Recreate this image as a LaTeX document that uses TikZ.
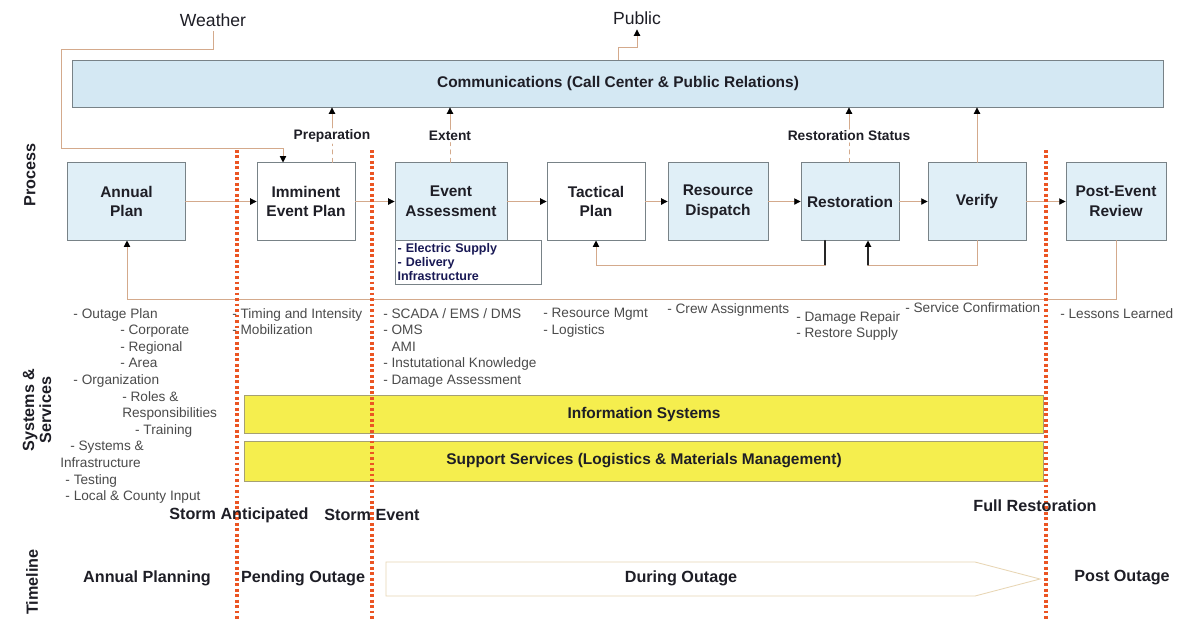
\documentclass[tikz,border=0pt]{standalone}
\usepackage{fontspec}
\setmainfont{Liberation Sans}
\usetikzlibrary{arrows.meta}
\definecolor{boxline}{RGB}{120, 130, 135}
\definecolor{boxfill}{RGB}{224, 239, 247}
\definecolor{commfill}{RGB}{212, 232, 243}
\definecolor{barfill}{RGB}{245, 238, 78}
\definecolor{barline}{RGB}{165, 160, 115}
\definecolor{linktan}{RGB}{212, 170, 140}
\definecolor{markred}{RGB}{235, 85, 35}
\definecolor{navy}{RGB}{25, 25, 85}
\definecolor{listgray}{RGB}{75, 75, 75}
\definecolor{labeldark}{RGB}{30, 30, 38}
\definecolor{chevron}{RGB}{232, 214, 180}
\def\procfont{\fontsize{11}{14}\selectfont\bfseries}
\def\listfont{\fontsize{9.7}{11.8}\selectfont}
\def\tagfont{\fontsize{9.8}{12}\selectfont\bfseries}
\def\subfont{\fontsize{8.9}{10}\selectfont\bfseries}
\def\rowfont{\fontsize{11.5}{12}\selectfont\bfseries}
\def\wxfont{\fontsize{12.5}{14}\selectfont}
\begin{document}
\begin{tikzpicture}[x=0.025cm, y=-0.025cm, line cap=round,
    >={Triangle[length=4.5pt, width=4.5pt, color=black]},
    procbox/.style={draw=boxline, line width=0.6pt, align=center, minimum height=1.93cm, font=\procfont, text=labeldark},
    bar/.style={draw=barline, fill=barfill, line width=0.6pt, minimum width=19.95cm, font=\procfont, text=labeldark},
    tag/.style={fill=white, inner sep=1pt, font=\tagfont, text=labeldark},
    items/.style={anchor=north west, inner sep=0pt, align=left, font=\listfont, text=listgray},
    link/.style={draw=linktan, line width=0.6pt},
    dark/.style={draw=black!85, line width=0.8pt},
    marker/.style={draw=markred, line width=2.2pt, line cap=butt, dash pattern=on 2pt off 1.9pt},
    stage/.style={font=\rowfont, text=labeldark},
    row/.style={rotate=90, font=\rowfont, text=labeldark, align=center}]

    \useasboundingbox[fill=white] (0,0) rectangle (1182,621);

    \node[row] (procrow) at (30,175) {Process};
    \node[row] (sysrow) at (37,410) {Systems \&\\Services};
    \node[row] (timerow) at (32,582) {Timeline};

    \node[draw=boxline, fill=commfill, line width=0.6pt, minimum width=27.25cm, minimum height=1.175cm,
        font=\procfont, text=labeldark] (comm) at (618,83.5) {Communications (Call Center \& Public Relations)};

    \node[font=\wxfont, text=labeldark] (weather) at (213,20) {Weather};
    \node[font=\wxfont, text=labeldark] (public) at (637,18) {Public};

    \node[procbox, fill=boxfill, minimum width=2.93cm] (annual) at (126.5,201.5) {Annual\\Plan};
    \node[procbox, fill=white, minimum width=2.45cm] (imminent) at (306,201.5) {Imminent\\Event Plan};
    \node[procbox, fill=boxfill, minimum width=2.8cm] (assess) at (451,201.5) {Event\\Assessment};
    \node[procbox, fill=white, minimum width=2.45cm] (tactical) at (596,201.5) {Tactical\\Plan};
    \node[procbox, fill=boxfill, minimum width=2.5cm] (dispatch) at (718,201.5) {Resource\\Dispatch};
    \node[procbox, fill=boxfill, minimum width=2.45cm] (restore) at (850,201.5) {Restoration};
    \node[procbox, fill=boxfill, minimum width=2.45cm] (verify) at (977,201.5) {Verify};
    \node[procbox, fill=boxfill, minimum width=2.5cm] (review) at (1116,201.5) {Post-Event\\Review};

    \node[draw=boxline, fill=white, line width=0.6pt, anchor=north west, inner sep=1.5pt, text width=3.54cm,
        minimum height=1.1cm, align=left, font=\subfont, text=navy] (assesssub) at (395,240)
        {- Electric Supply\\- Delivery\\Infrastructure};

    \node[tag] (prep) at (332,136) {Preparation};
    \node[tag] (extent) at (450,136) {Extent};
    \node[tag] (status) at (849,136) {Restoration Status};

    \draw[link, dashed] (imminent.north -| prep) -- (prep);
    \draw[link, ->] (prep) -- (comm.south -| prep);
    \draw[link, dashed] (assess.north -| extent) -- (extent);
    \draw[link, ->] (extent) -- (comm.south -| extent);
    \draw[link, dashed] (restore.north -| status) -- (status);
    \draw[link, ->] (status) -- (comm.south -| status);
    \draw[link, ->] (verify.north) -- (comm.south -| verify.north);

    \coordinate (wx1) at (61,49);
    \coordinate (wx2) at (283,148);
    \draw[link, ->] (weather.south) -- (weather.south |- wx1) -- (wx1) -- (wx1 |- wx2) -- (wx2) -- (imminent.north -| wx2);

    \coordinate (pub1) at (618,47);
    \draw[link, ->] (comm.north -| pub1) -- (pub1) -- (pub1 -| public.south) -- (public.south);

    \draw[link, ->] (annual.east) -- (imminent.west);
    \draw[link, ->] (imminent.east) -- (assess.west);
    \draw[link, ->] (assess.east) -- (tactical.west);
    \draw[link, ->] (tactical.east) -- (dispatch.west);
    \draw[link, ->] (dispatch.east) -- (restore.west);
    \draw[link, ->] (restore.east) -- (verify.west);
    \draw[link, ->] (verify.east) -- (review.west);

    \coordinate (back1) at (825,265);
    \draw[dark] (restore.south -| back1) -- (back1);
    \draw[link, ->] (back1) -- (tactical.south |- back1) -- (tactical.south);
    \coordinate (back2) at (868,265);
    \draw[link] (verify.south) -- (verify.south |- back2) -- (back2);
    \draw[dark, ->] (back2) -- (restore.south -| back2);
    \coordinate (back3) at (127,299);
    \draw[link, ->] (review.south) -- (review.south |- back3) -- (back3) -- (annual.south -| back3);

    \node[items] (annualitems) at (60,308) {\hspace*{0.33cm}- Outage Plan\\
        \hspace*{1.5cm}- Corporate\\
        \hspace*{1.5cm}- Regional\\
        \hspace*{1.5cm}- Area\\
        \hspace*{0.33cm}- Organization\\
        \hspace*{1.55cm}- Roles \&\\
        \hspace*{1.55cm}Responsibilities\\
        \hspace*{1.87cm}- Training\\
        \hspace*{0.25cm}- Systems \&\\
        Infrastructure\\
        \hspace*{0.13cm}- Testing\\
        \hspace*{0.13cm}- Local \& County Input};
    \node[items] (imminentitems) at (232,308) {- Timing and Intensity\\- Mobilization};
    \node[items] (assessitems) at (383,308) {- SCADA / EMS / DMS\\- OMS\\\phantom{- }AMI\\- Instutational Knowledge\\- Damage Assessment};
    \node[items] (tacticalitems) at (543,308) {- Resource Mgmt\\- Logistics};
    \node[items] (dispatchitems) at (667,303) {- Crew Assignments};
    \node[items] (restoreitems) at (796,311) {- Damage Repair\\- Restore Supply};
    \node[items] (verifyitems) at (905,302) {- Service Confirmation};
    \node[items] (reviewitems) at (1060,308) {- Lessons Learned};

    \node[bar, minimum height=0.95cm] (infosys) at (644,414.5) {Information Systems};
    \node[bar, minimum height=1cm] (support) at (644,461) {Support Services (Logistics \& Materials Management)};

    \draw[chevron, line width=0.6pt] (386,562) -- (975,562) -- (1040,579) -- (975,596) -- (386,596) -- cycle;

    \foreach \x in {237, 372, 1046}
        \draw[marker] (\x,150) -- (\x,621);

    \node[stage] (stormon) at (239,515) {Storm Anticipated};
    \node[stage] (stormhit) at (372,515) {Storm Event};
    \node[stage] (fullrest) at (1035,506) {Full Restoration};
    \node[stage] (plan) at (147,578) {Annual Planning};
    \node[stage] (pending) at (303,578) {Pending Outage};
    \node[stage] (during) at (681,578) {During Outage};
    \node[stage] (post) at (1122,578) {Post Outage};

\end{tikzpicture}
\end{document}
